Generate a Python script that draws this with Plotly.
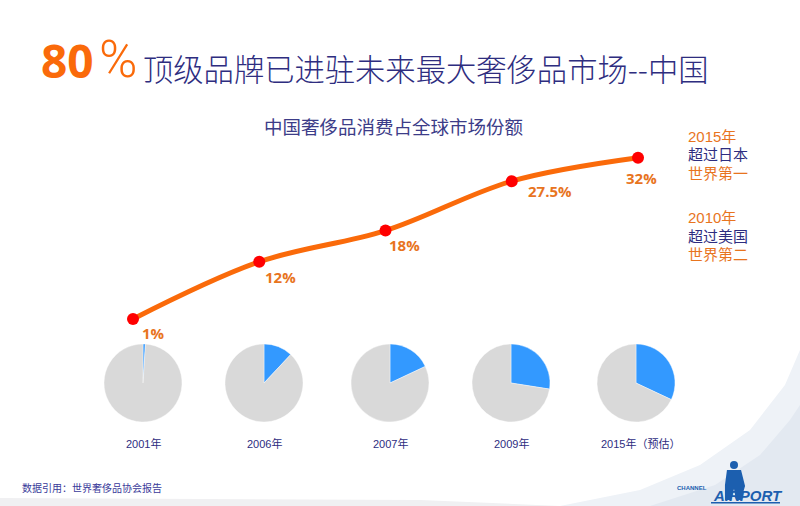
import plotly.graph_objects as go

# ---------------- data ----------------
years = ["2001", "2006", "2007", "2009", "2015"]
year_labels = ["2001年", "2006年", "2007年", "2009年", "2015年（预估）"]
share = [1, 12, 18, 27.5, 32]
share_text = ["1%", "12%", "18%", "27.5%", "32%"]
title_num = "80"
title_pct = "%"
title_text = "顶级品牌已进驻未来最大奢侈品市场--中国"
subtitle = "中国奢侈品消费占全球市场份额"
note_2015 = ["2015年", "超过日本", "世界第一"]
note_2010 = ["2010年", "超过美国", "世界第二"]
source = "数据引用：世界奢侈品协会报告"
logo_main = "AIRPORT"
logo_sub = "CHANNEL"

# ---------------- style ----------------
W, H = 800, 506
ORANGE_LINE = "#FA6A0A"
ORANGE_TXT = "#E8741E"
NAVY = "#2E2D7F"
BLUE = "#3399FF"
GRAY = "#D9D9D9"
LOGO = "#1C5FAF"
CJK = "Noto Sans CJK SC"

label_shift = [(20, 14), (21, 15), (19, 14), (38, 10), (3, 20)]
pie_cx = [143, 264, 390, 511, 636]
pie_cy, pie_r = 383, 39
year_label_x = [143, 264, 390, 511, 640]


def px(x, y):
    return x / W, 1 - y / H


def path(points):
    s = ""
    for i, (x, y) in enumerate(points):
        fx, fy = px(x, y)
        s += ("M " if i == 0 else " L ") + f"{fx:.4f},{fy:.4f}"
    return s + " Z"


fig = go.Figure()

# line
fig.add_trace(go.Scatter(
    x=years, y=share, mode="lines+markers",
    line=dict(color=ORANGE_LINE, width=5, shape="spline", smoothing=1),
    marker=dict(color="#FF0000", size=12),
    hoverinfo="skip", showlegend=False, cliponaxis=False,
))

# pies
for i, v in enumerate(share):
    c = pie_cx[i]
    x0, _ = px(c - pie_r, 0)
    x1, _ = px(c + pie_r, 0)
    _, y0 = px(0, pie_cy + pie_r)
    _, y1 = px(0, pie_cy - pie_r)
    fig.add_trace(go.Pie(
        values=[v, 100 - v], sort=False, direction="clockwise", rotation=0,
        marker=dict(colors=[BLUE, GRAY], line=dict(color="white", width=0.4)),
        textinfo="none", hoverinfo="skip", showlegend=False,
        domain=dict(x=[x0, x1], y=[y0, y1]),
    ))

ann = []
# data labels (category axis: serial index of each year)
for i, t in enumerate(share_text):
    dx, dy = label_shift[i]
    ann.append(dict(x=years.index(years[i]), y=share[i], xref="x", yref="y", text=t,
                    showarrow=False, xshift=dx, yshift=-dy,
                    font=dict(family="Open Sans", size=15, color=ORANGE_TXT, weight="bold")))

# year labels under pies
for i, t in enumerate(year_labels):
    fx, fy = px(year_label_x[i], 443)
    ann.append(dict(x=fx, y=fy, xref="paper", yref="paper", text=t, showarrow=False,
                    xanchor="center", yanchor="middle",
                    font=dict(family="Liberation Sans, " + CJK, size=11, color=NAVY)))

# title
fx, fy = px(39, 60)
ann.append(dict(x=fx, y=fy, xref="paper", yref="paper", text=title_num, showarrow=False,
                xanchor="left", yanchor="middle",
                font=dict(family="Open Sans", size=46, color=ORANGE_LINE, weight="bold")))
fx, fy = px(97, 60)
ann.append(dict(x=fx, y=fy, xref="paper", yref="paper", text=title_pct, showarrow=False,
                xanchor="left", yanchor="middle",
                font=dict(family="Roboto", size=52, color=ORANGE_LINE, weight=300)))
fx, fy = px(141, 68)
ann.append(dict(x=fx, y=fy, xref="paper", yref="paper", text=title_text, showarrow=False,
                xanchor="left", yanchor="middle",
                font=dict(family=CJK, size=30.3, color=NAVY, weight=300)))

# subtitle
fx, fy = px(393, 126)
ann.append(dict(x=fx, y=fy, xref="paper", yref="paper", text=subtitle, showarrow=False,
                xanchor="center", yanchor="middle",
                font=dict(family=CJK, size=18.5, color="#3C3C88")))

# side notes
note_colors = [ORANGE_TXT, NAVY, ORANGE_TXT]
for lines, ys in ((note_2015, [136, 154, 173]), (note_2010, [218, 237, 254])):
    for t, y, col in zip(lines, ys, note_colors):
        fx, fy = px(686, y)
        ann.append(dict(x=fx, y=fy, xref="paper", yref="paper", text=t, showarrow=False,
                        xanchor="left", yanchor="middle",
                        font=dict(family="Liberation Sans, " + CJK, size=15, color=col)))

# source note
fx, fy = px(20, 487)
ann.append(dict(x=fx, y=fy, xref="paper", yref="paper", text=source, showarrow=False,
                xanchor="left", yanchor="middle",
                font=dict(family=CJK, size=10, color="#3A3A9A")))

# logo texts
fx, fy = px(711, 495)
ann.append(dict(x=fx, y=fy, xref="paper", yref="paper", text="<i>" + logo_main + "</i>",
                showarrow=False, xanchor="left", yanchor="middle",
                font=dict(family="Liberation Sans", size=15, color=LOGO, weight="bold")))
fx, fy = px(675, 488)
ann.append(dict(x=fx, y=fy, xref="paper", yref="paper", text=logo_sub,
                showarrow=False, xanchor="left", yanchor="middle",
                font=dict(family="Liberation Sans", size=6, color=LOGO, weight="bold")))

# decorative shapes (background swoosh and logo figure)
shapes = []
swoosh1 = [(560, 506), (640, 490), (700, 465), (750, 430), (785, 385), (800, 350), (800, 506)]
swoosh2 = [(650, 506), (715, 485), (760, 455), (790, 420), (800, 405), (800, 506)]
strip = [(0, 498), (420, 500), (560, 506), (0, 506)]
shapes.append(dict(type="path", xref="paper", yref="paper", path=path(swoosh1),
                   fillcolor="#EEF2F7", line=dict(width=0), layer="below"))
shapes.append(dict(type="path", xref="paper", yref="paper", path=path(swoosh2),
                   fillcolor="#E3E9F1", line=dict(width=0), layer="below"))
shapes.append(dict(type="path", xref="paper", yref="paper", path=path(strip),
                   fillcolor="#F0F0F2", line=dict(width=0), layer="below"))
man = [(727, 470), (741, 470), (745, 486), (741, 500), (736, 500), (734, 489),
       (731, 500), (725, 500), (725, 485)]
shapes.append(dict(type="path", xref="paper", yref="paper", path=path(man),
                   fillcolor=LOGO, line=dict(width=0), layer="below"))
hx0, hy0 = px(730, 469)
hx1, hy1 = px(738, 461)
shapes.append(dict(type="circle", xref="paper", yref="paper", x0=hx0, y0=hy0, x1=hx1, y1=hy1,
                   fillcolor=LOGO, line=dict(width=0), layer="below"))
lx0, ly0 = px(711, 502)
lx1, ly1 = px(780, 503.5)
shapes.append(dict(type="rect", xref="paper", yref="paper", x0=lx0, y0=ly0, x1=lx1, y1=ly1,
                   fillcolor=LOGO, line=dict(width=0)))

fig.update_layout(
    width=W, height=H, margin=dict(l=0, r=0, t=0, b=0),
    paper_bgcolor="white", plot_bgcolor="rgba(0,0,0,0)",
    xaxis=dict(type="category", range=[-1.0535, 5.2831], visible=False, fixedrange=True),
    yaxis=dict(range=[-34.96, 62.35], visible=False, fixedrange=True),
    annotations=ann, shapes=shapes, showlegend=False,
)

fig.write_html("out.html", config={"displayModeBar": False},
               post_script="document.body.style.margin='0';")
